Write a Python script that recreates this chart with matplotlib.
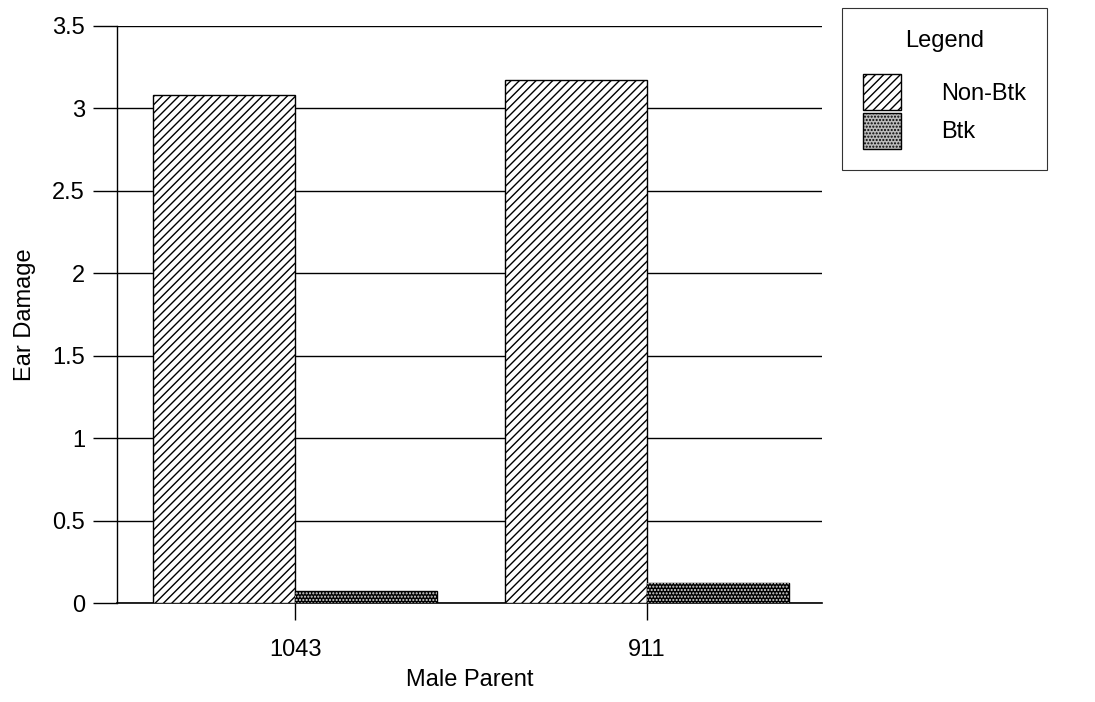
import matplotlib.pyplot as plt
import numpy as np
from matplotlib.patches import Patch

plt.rcParams['font.family'] = ['Liberation Sans', 'DejaVu Sans']

parents = ['1043', '911']
non_btk = [3.08, 3.17]
btk = [0.07, 0.12]
yticks = [0, 0.5, 1, 1.5, 2, 2.5, 3, 3.5]
ytick_labels = ['0', '0.5', '1', '1.5', '2', '2.5', '3', '3.5']

fs = 17

fig = plt.figure(figsize=(10.95, 7.02), dpi=100)
ax = fig.add_axes([0.1068, 0.141, 0.644, 0.822])

x = np.arange(len(parents))
w = 0.403

ax.set_axisbelow(True)
ax.yaxis.grid(True, color='black', linewidth=1.0)
ax.axhline(0, color='black', linewidth=1.2, clip_on=False, zorder=1)

ax.bar(x - w / 2, non_btk, w, facecolor='white', edgecolor='black',
       hatch='////', linewidth=1.0, zorder=2)
ax.bar(x + w / 2, btk, w, facecolor='black', edgecolor='black',
       linewidth=1.0, zorder=2)
ax.bar(x + w / 2, btk, w, facecolor='none', edgecolor='#dddddd',
       hatch='.....', linewidth=0, zorder=3)

ax.set_xlim(-0.506, 1.497)
ax.set_ylim(0, 3.5)
ax.set_yticks(yticks)
ax.set_yticklabels(ytick_labels, fontsize=fs)
ax.set_xticks(x)
ax.set_xticklabels(parents, fontsize=fs)
ax.tick_params(axis='y', length=17, width=1.0, pad=6)
ax.tick_params(axis='x', length=12, width=1.0, pad=14)

for s in ['top', 'right', 'bottom']:
    ax.spines[s].set_visible(False)
ax.spines['left'].set_linewidth(1.0)

ax.set_ylabel('Ear Damage', fontsize=fs, labelpad=12)
ax.set_xlabel('Male Parent', fontsize=fs, labelpad=6)

handles = [
    Patch(facecolor='white', edgecolor='black', hatch='////', label='Non-Btk'),
    Patch(facecolor='#bbbbbb', edgecolor='black', hatch='.....', label='Btk'),
]
leg = fig.legend(handles=handles, title='Legend', loc='upper left',
                 bbox_to_anchor=(0.769, 0.988), fontsize=fs, title_fontsize=fs,
                 frameon=True, fancybox=False, edgecolor='black',
                 handlelength=1.6, handleheight=2.0, handletextpad=1.7,
                 borderpad=0.9, labelspacing=0.1, borderaxespad=0)
leg._legend_box.sep = 16
leg.get_frame().set_linewidth(0.8)

fig.savefig('out.png', dpi=100)
